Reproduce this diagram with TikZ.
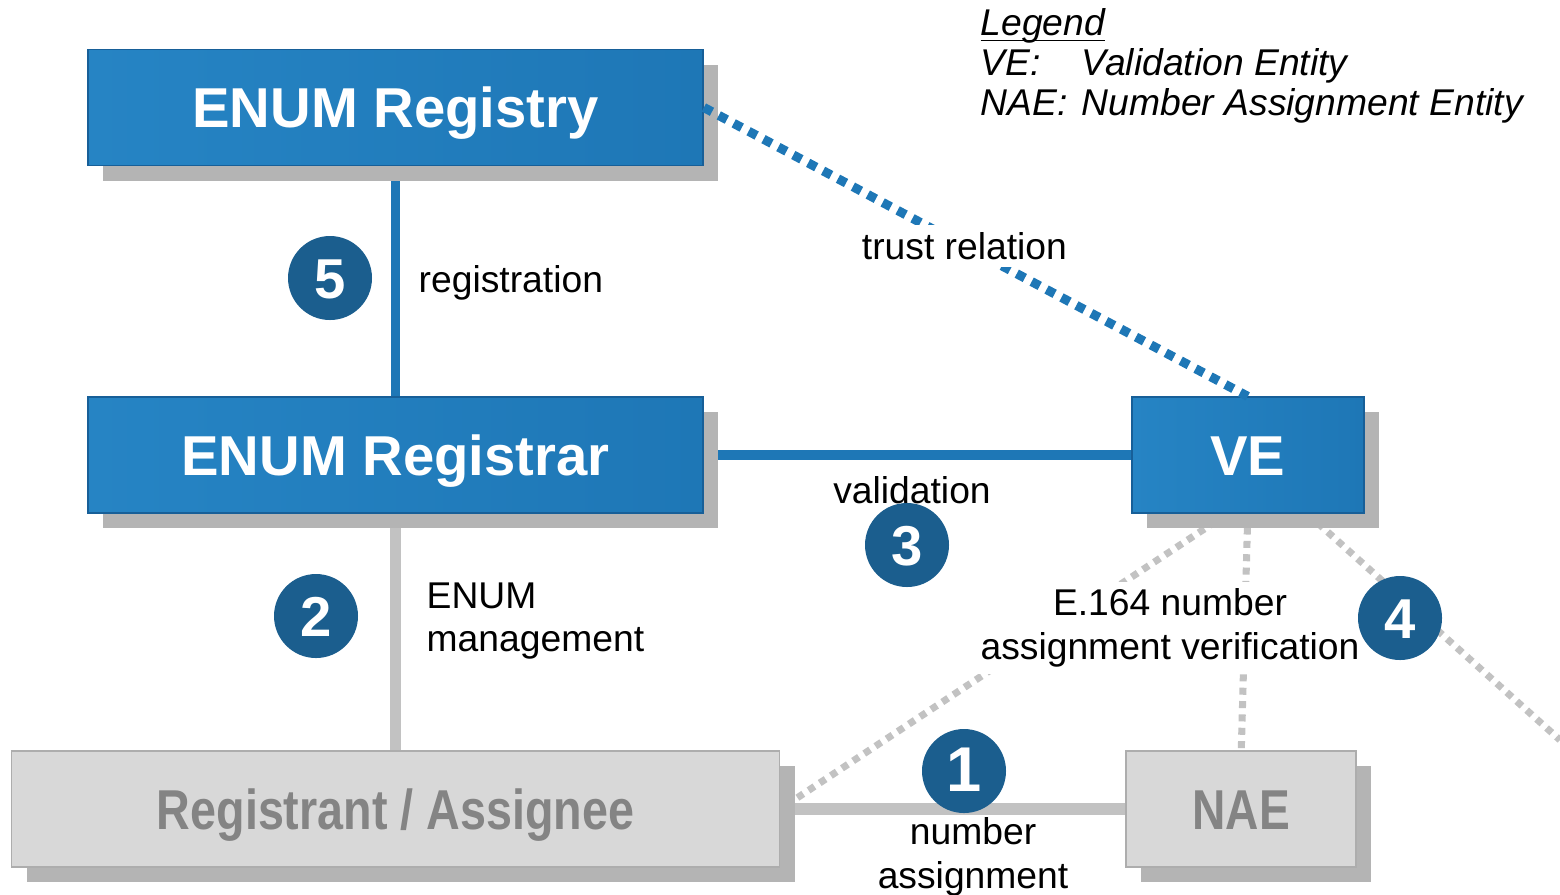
\documentclass[tikz,border=0pt]{standalone}
\usepackage{fontspec}
\setmainfont{Liberation Sans}
\usepackage{graphicx}
\usepackage{xcolor}
\usetikzlibrary{positioning,shadows,backgrounds}

\definecolor{enumblue}{HTML}{1E77B6}
\definecolor{enumblueL}{HTML}{2684C4}
\definecolor{enumblueD}{HTML}{175F98}
\definecolor{badgeblue}{HTML}{1B5E8E}
\definecolor{boxgray}{HTML}{D8D8D8}
\definecolor{boxgrayL}{HTML}{EEEEEE}
\definecolor{shadowgray}{HTML}{B4B4B4}
\definecolor{linegray}{HTML}{C2C2C2}
\definecolor{textgray}{HTML}{848484}

\begin{document}
\begin{tikzpicture}[
    node distance=2cm,
    font=\fontsize{10.6}{12.4}\selectfont,
    entity/.style={
        rectangle,
        inner sep=0pt,
        draw=enumblueD,
        line width=0.5pt,
        left color=enumblueL,
        right color=enumblue,
        text=white,
        font=\fontsize{16}{19}\selectfont\bfseries,
        text height=11.4pt,
        text depth=0pt,
        minimum height=11.6mm,
        drop shadow={shadow xshift=1.5mm, shadow yshift=-1.5mm, fill=shadowgray, opacity=1}
    },
    party/.style={
        entity,
        draw=boxgray!80!black,
        left color=boxgray,
        middle color=boxgrayL,
        right color=boxgray,
        text=textgray
    },
    badge/.style={
        circle,
        fill=badgeblue,
        text=white,
        inner sep=0pt,
        minimum size=8.4mm,
        font=\fontsize{16}{19}\selectfont\bfseries,
        text height=11.4pt,
        text depth=0pt
    },
    note/.style={
        fill=white,
        text=black,
        inner sep=2pt,
        align=center
    },
    blueline/.style={enumblue, line width=2.8pt},
    grayline/.style={linegray, line width=3pt},
    trust/.style={enumblue, line width=2.6pt, dash pattern=on 2.6pt off 2.2pt},
    verify/.style={linegray, line width=2pt, dash pattern=on 2pt off 1.8pt}
  ]
  \useasboundingbox (0,0) rectangle (15.6,-8.94);

  % the blocks
  \node [entity, minimum width=61.5mm] (registry) at (3.955,-1.075) {ENUM Registry};
  \node [entity, minimum width=61.5mm, below=2.3cm of registry] (registrar) {ENUM Registrar};
  \node [party, minimum width=76.8mm, below=2.36cm of registrar] (registrant)
    {\scalebox{0.83}[1]{Registrant / Assignee}};
  \node [entity, minimum width=23.2mm, right=4.27cm of registrar] (ve) {VE};
  \node [party, minimum width=23mm, right=3.45cm of registrant] (nae)
    {\scalebox{0.82}[1]{NAE}};

  % connections, behind the blocks
  \begin{scope}[on background layer]
    \draw [blueline] (registry) -- (registrar);
    \draw [blueline] (registrar) -- (ve);
    \draw [grayline] (registrar) -- (registrant);
    \draw [grayline, line width=3.4pt] (registrant) -- (nae);
    \draw [verify] (ve.south) -- (nae.north);
    \draw [verify] ([xshift=-0.21cm]ve.south) -- ([xshift=0.15cm, yshift=0.1cm]registrant.east);
    \coordinate (offright) at (15.6,-7.4);
    \draw [verify] ([xshift=0.6cm]ve.south) -- (offright);
  \end{scope}
  \draw [trust] (registry.east) -- node [note, pos=0.479] (trustlbl) {trust relation} (ve.north);

  % labels
  \node [anchor=base west, inner sep=0pt] (reglbl) at (4.18,-2.92) {registration};
  \node [anchor=west, align=left, inner sep=0pt] (mgmtlbl) at (4.26,-6.21) {ENUM\\management};
  \node [anchor=base] (vallbl) at (9.12,-5.03) {validation};
  \node [note] (e164lbl) at (11.70,-6.28) {E.164 number\\assignment verification};
  \node [align=center] (numlbl) at (9.73,-8.57) {number\\assignment};

  % numbered steps
  \node [badge] (step5) at (3.30,-2.78) {5};
  \node [badge] (step2) at (3.16,-6.16) {2};
  \node [badge] (step3) at (9.07,-5.45) {3};
  \node [badge, font=\fontsize{18}{20}\selectfont\bfseries] (step1) at (9.64,-7.71) {1};
  \node [badge] (step4) at (14.00,-6.18) {4};

  % legend
  \node [anchor=base west, inner sep=0pt, font=\fontsize{10.6}{11.4}\selectfont\itshape] (legend) at (9.80,-0.355)
  {%
  \begin{tabular}[t]{@{}l@{\hspace{4pt}}l@{}}
   \multicolumn{2}{@{}l}{\underline{\smash{Legend}}}\\
   VE: & Validation Entity\\
   NAE: & Number Assignment Entity
  \end{tabular}
  };
\end{tikzpicture}
\end{document}
